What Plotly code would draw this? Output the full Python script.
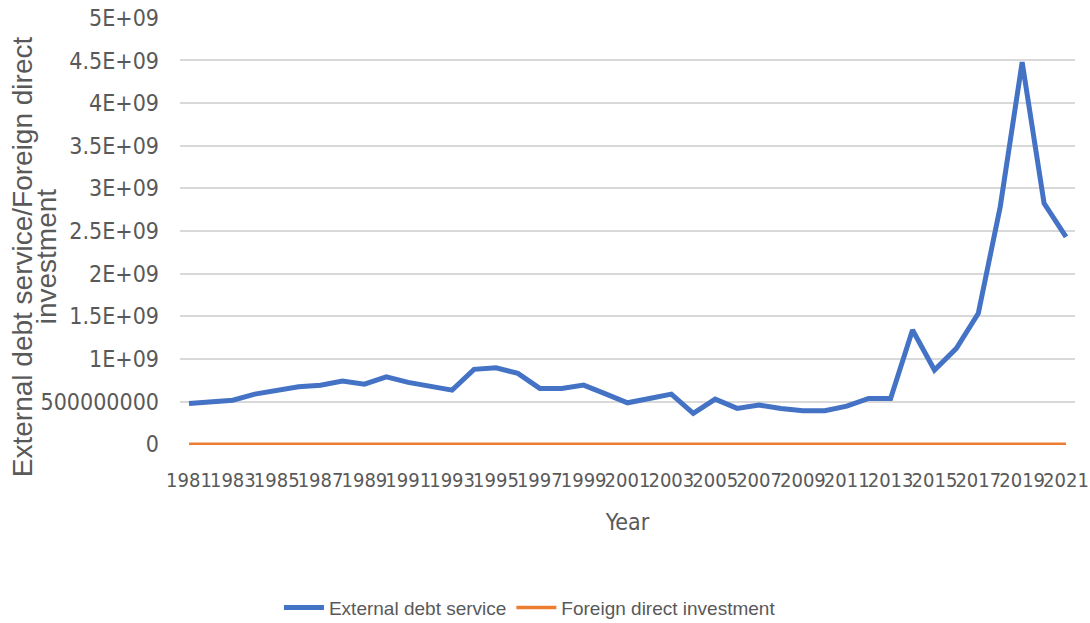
import plotly.graph_objects as go

years = list(range(1981, 2022))
external_debt_service = [
    4.78e8, 4.93e8, 5.16e8, 5.87e8, 6.26e8, 6.73e8, 6.92e8, 7.39e8, 7.04e8, 7.90e8,
    7.24e8, 6.73e8, 6.34e8, 8.77e8, 8.96e8, 8.30e8, 6.54e8, 6.54e8, 6.92e8, 5.90e8,
    4.85e8, 5.36e8, 5.87e8, 3.60e8, 5.28e8, 4.19e8, 4.58e8, 4.19e8, 3.91e8, 3.91e8,
    4.46e8, 5.36e8, 5.36e8, 1.338e9, 8.69e8, 1.123e9, 1.534e9, 2.785e9, 4.48e9, 2.825e9,
    2.43e9,
]
foreign_direct_investment = [
    0, 0, 0, 0, 0, 0, 0, 0, 0, 0,
    0, 0, 0, 0, 0, 0, 0, 0, 0, 0,
    0, 0, 0, 0, 0, 0, 0, 0, 0, 0,
    0, 0, 0, 0, 0, 0, 0, 0, 0, 0,
    0,
]
x_tick_years = list(range(1981, 2022, 2))
y_tick_values = [0, 5e8, 1e9, 1.5e9, 2e9, 2.5e9, 3e9, 3.5e9, 4e9, 4.5e9, 5e9]
y_tick_labels = ["0", "500000000", "1E+09", "1.5E+09", "2E+09", "2.5E+09",
                 "3E+09", "3.5E+09", "4E+09", "4.5E+09", "5E+09"]
y_title_lines = ["External debt service/Foreign direct", "investment"]

TICK_FONT = "Liberation Sans Narrow, DejaVu Sans Condensed, Liberation Sans, Arial, sans-serif"
TEXT_FONT = "Liberation Sans, Arial, sans-serif"
GREY = "#595959"

fig = go.Figure()
fig.add_trace(go.Scatter(
    x=years, y=external_debt_service, mode="lines", name="External debt service",
    line=dict(color="#4472C4", width=5),
))
fig.add_trace(go.Scatter(
    x=years, y=foreign_direct_investment, mode="lines", name="Foreign direct investment",
    line=dict(color="#ED7D31", width=3.5),
))

# y-axis title drawn as two rotated lines
title_x = [-0.176, -0.149]
annotations = [
    dict(text=t, xref="paper", yref="paper", x=xx, y=0.44,
         xanchor="center", yanchor="middle", textangle=-90, showarrow=False,
         font=dict(family=TEXT_FONT, size=28, color=GREY))
    for t, xx in zip(y_title_lines, title_x)
]

fig.update_layout(
    width=1090, height=623,
    paper_bgcolor="white", plot_bgcolor="white",
    margin=dict(l=180, r=15, t=17, b=178, autoexpand=False),
    showlegend=True,
    legend=dict(
        orientation="h", x=0.391, y=-0.38, xanchor="center", yanchor="middle",
        font=dict(family=TEXT_FONT, size=19, color=GREY),
        itemwidth=40, tracegroupgap=0,
    ),
    annotations=annotations,
)
fig.update_xaxes(
    range=[1980.59, 2021.41], tickmode="array", tickvals=x_tick_years,
    ticktext=[str(y) for y in x_tick_years], tickangle=0, automargin=False,
    ticklabeloverflow="allow",
    showgrid=False, zeroline=False, showline=False, ticks="",
    ticklabelstandoff=21,
    tickfont=dict(family=TICK_FONT, size=20, color=GREY),
    title=dict(text="Year", standoff=22, font=dict(family=TICK_FONT, size=23, color=GREY)),
)
fig.update_yaxes(
    range=[-0.01e9, 5.01e9], tickmode="array", tickvals=y_tick_values, ticktext=y_tick_labels,
    automargin=False, ticklabeloverflow="allow",
    showgrid=True, gridcolor="#D9D9D9", gridwidth=1.5, zeroline=False, showline=False,
    ticks="", ticklabelstandoff=20,
    tickfont=dict(family=TICK_FONT, size=23, color=GREY),
)

# remove the default 8px page margin so the 1090x623 figure fills the window exactly
fig.write_html(
    "out.html",
    config={"displayModeBar": False},
    post_script="document.body.style.margin='0';document.body.style.overflow='hidden';",
)
